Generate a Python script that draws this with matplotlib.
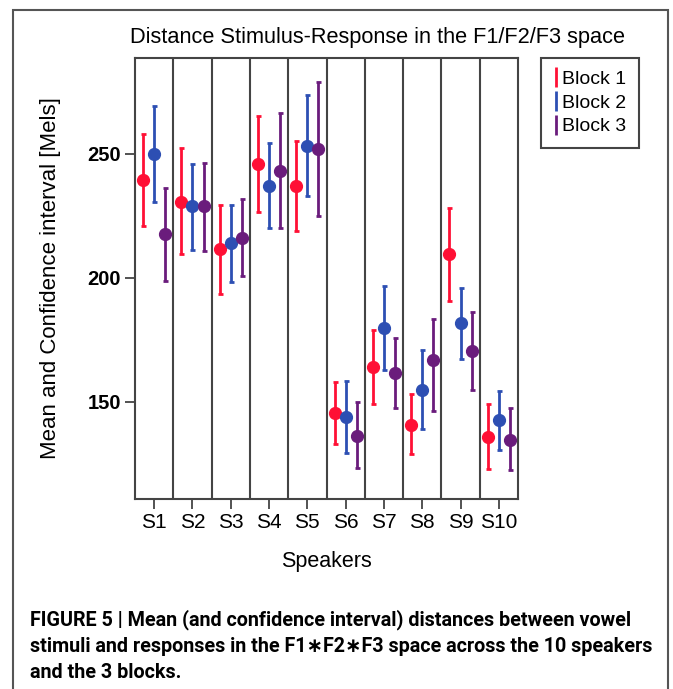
import matplotlib.pyplot as plt
import numpy as np
from matplotlib.patches import Rectangle

speakers = ['S1', 'S2', 'S3', 'S4', 'S5', 'S6', 'S7', 'S8', 'S9', 'S10']
blocks = ['Block 1', 'Block 2', 'Block 3']
colors = ['#ff1035', '#2d4fb3', '#6a1c7c']

# means and confidence interval limits, read per block
mean_b1 = [239.5, 230.8, 211.6, 246.0, 237.1, 145.4, 164.0, 140.7, 209.6, 135.9]
low_b1 = [221.0, 209.6, 193.5, 226.5, 219.0, 132.9, 149.0, 129.0, 190.5, 122.9]
high_b1 = [258.0, 252.3, 229.4, 265.4, 255.4, 157.8, 179.0, 153.3, 228.1, 149.0]

mean_b2 = [250.0, 228.8, 214.0, 237.2, 253.4, 143.8, 179.7, 154.8, 181.6, 142.6]
low_b2 = [230.8, 211.3, 198.3, 220.3, 233.2, 129.2, 162.9, 139.0, 167.3, 130.6]
high_b2 = [269.4, 246.0, 229.4, 254.3, 273.8, 158.5, 196.9, 170.9, 195.8, 154.4]

mean_b3 = [217.6, 228.8, 216.0, 243.1, 252.0, 136.4, 161.6, 167.0, 170.6, 134.7]
low_b3 = [198.8, 210.9, 200.6, 220.0, 225.1, 123.2, 147.4, 146.1, 154.8, 122.3]
high_b3 = [236.4, 246.5, 231.9, 266.4, 279.2, 150.0, 175.7, 183.5, 186.2, 147.4]

means = [mean_b1, mean_b2, mean_b3]
lows = [low_b1, low_b2, low_b3]
highs = [high_b1, high_b2, high_b3]

plt.rcParams['font.family'] = ['Liberation Sans', 'DejaVu Sans']

W, H = 673, 689
fig = plt.figure(figsize=(W / 100, H / 100), dpi=100)
ax = fig.add_axes([135 / W, 1 - 499 / H, (518 - 135) / W, (499 - 58) / H])

x = np.arange(len(speakers))
offsets = [-0.29, 0.0, 0.29]
for k in range(3):
    m = np.array(means[k])
    err = [m - np.array(lows[k]), np.array(highs[k]) - m]
    ax.errorbar(x + offsets[k], m, yerr=err, fmt='o', color=colors[k],
                ms=8.5, elinewidth=2, capsize=1.8, capthick=2)

# separators between speakers
for b in x[:-1] + 0.5:
    ax.axvline(b, color='#444444', lw=1.5)

ax.set_xlim(-0.5, len(speakers) - 0.5)
ax.set_ylim(110.8, 288.7)
ax.set_xticks(x)
ax.set_xticklabels(speakers, fontsize=15)
ax.set_yticks([150, 200, 250])
ax.set_yticklabels(['150', '200', '250'], fontsize=14.5, fontweight='bold')
ax.tick_params(length=7, width=1.3, color='#444444', pad=3)
for s in ax.spines.values():
    s.set_color('#444444')
    s.set_linewidth(1.5)

fig.text(378 / W, 1 - 37 / H, 'Distance Stimulus-Response in the F1/F2/F3 space',
         fontsize=15.7, ha='center', va='center')
ax.set_xlabel('Speakers', fontsize=15.5, labelpad=14)
ax.set_ylabel('Mean and Confidence interval [Mels]', fontsize=16, labelpad=19)

handles = []
for k in range(3):
    h = ax.errorbar([], [], yerr=[], fmt='none', color=colors[k], elinewidth=2, capsize=2, capthick=2)
    handles.append(h)
leg = fig.legend(handles, blocks, loc='upper left', bbox_to_anchor=(541 / W, 1 - 58 / H),
                 borderaxespad=0, fontsize=14, fancybox=False, edgecolor='#444444',
                 framealpha=1, handlelength=0.2, handleheight=0.6, handletextpad=0.25,
                 labelspacing=0.35, borderpad=0.65)
leg.get_frame().set_linewidth(1.5)

# outer frame of the figure panel
fig.patches.append(Rectangle((13 / W, -0.05), (668 - 13) / W, 1.05 - 10 / H,
                             transform=fig.transFigure, fill=False,
                             edgecolor='#555555', lw=1.5))

lines = ['FIGURE 5 | Mean (and confidence interval) distances between vowel',
         'stimuli and responses in the F1\u2217F2\u2217F3 space across the 10 speakers',
         'and the 3 blocks.']
cap_y = [620, 646, 672]
cap_right = [632, 655, 260]
cap_texts = [fig.text(30 / W, 1 - y / H, t, fontsize=13.5, fontweight='bold',
                      family=['Roboto', 'DejaVu Sans'], va='center', ha='left')
             for t, y in zip(lines, cap_y)]
# shrink caption so the lines span about the same width as in the original
r = fig.canvas.get_renderer()
fs = min(13.5 * (cap_right[i] - 30) / cap_texts[i].get_window_extent(r).width
         for i in range(2))
for t in cap_texts:
    t.set_fontsize(fs)

fig.savefig('out.png', dpi=100)
